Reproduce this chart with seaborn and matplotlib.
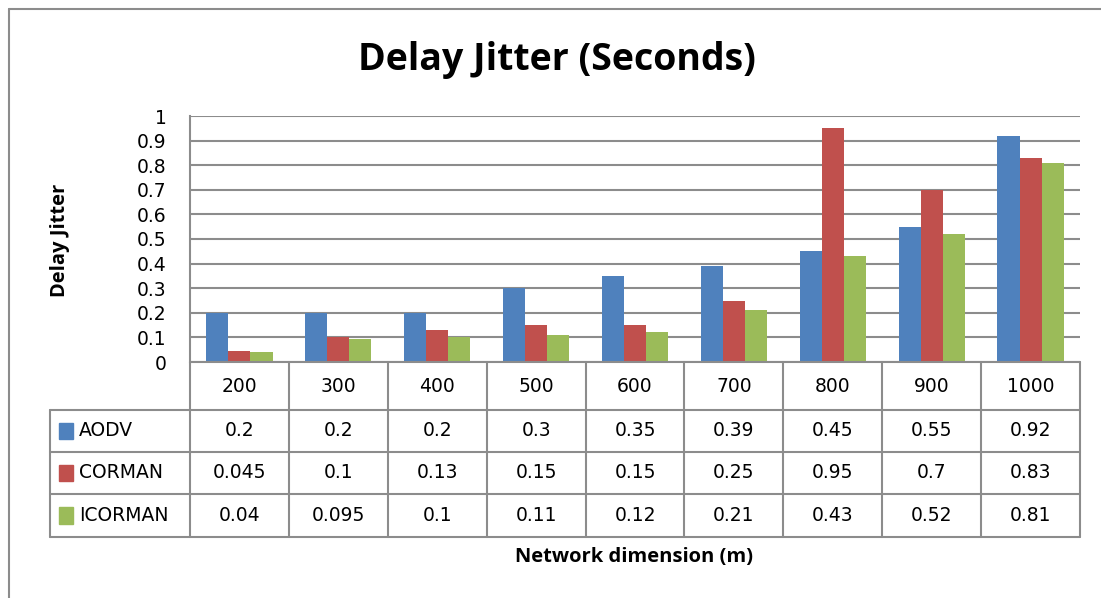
import pandas as pd
import matplotlib.pyplot as plt
import seaborn as sns
from matplotlib.lines import Line2D
from matplotlib.transforms import blended_transform_factory

dims = ["200", "300", "400", "500", "600", "700", "800", "900", "1000"]
protocols = ["AODV", "CORMAN", "ICORMAN"]
aodv = [0.2, 0.2, 0.2, 0.3, 0.35, 0.39, 0.45, 0.55, 0.92]
corman = [0.045, 0.1, 0.13, 0.15, 0.15, 0.25, 0.95, 0.7, 0.83]
icorman = [0.04, 0.095, 0.1, 0.11, 0.12, 0.21, 0.43, 0.52, 0.81]
colors = ["#4F81BD", "#C0504D", "#9BBB59"]

series = {"AODV": aodv, "CORMAN": corman, "ICORMAN": icorman}
records = []
for proto, vals in series.items():
    for d, v in zip(dims, vals):
        records.append({"Dimension": d, "Protocol": proto, "Jitter": v})
df = pd.DataFrame(records)

sns.set_style("white")
plt.rcParams["font.family"] = ["DejaVu Sans"]
plt.rcParams["text.color"] = "black"
plt.rcParams["ytick.color"] = "black"
bold_font = ["Open Sans", "DejaVu Sans"]
grid_c = "#8c8c8c"
fs = 13.5

fig = plt.figure(figsize=(11.01, 5.98), dpi=100)
W, H = 1101, 598
ax = fig.add_axes([190 / W, (H - 362) / H, 890 / W, 246 / H])

sns.barplot(data=df, x="Dimension", y="Jitter", hue="Protocol", order=dims,
            hue_order=protocols, palette=colors, saturation=1, width=0.67,
            linewidth=0, legend=False, ax=ax)

ax.set_ylim(0, 1)
ax.set_xlim(-0.5, len(dims) - 0.5)
yt = [i / 10 for i in range(11)]
ax.set_yticks(yt)
ax.set_yticklabels(["0"] + [f"{t:.1f}" for t in yt[1:-1]] + ["1"], fontsize=fs)
ax.tick_params(axis="y", length=0, pad=17, labelcolor="black")
ax.set_xticks([])
ax.set_xlabel("")
ax.set_ylabel("")
ax.set_axisbelow(True)
ax.yaxis.grid(True, color=grid_c, linewidth=1.5)
for s in ["top", "right", "bottom"]:
    ax.spines[s].set_visible(False)
ax.spines["left"].set_color(grid_c)
ax.spines["left"].set_linewidth(1.5)

# data table below the plot
tr = blended_transform_factory(ax.transData, ax.transAxes)
row_y = [0, -48 / 246, -90 / 246, -132 / 246, -175 / 246]
left_x = -0.5 - 140 / (890 / 9)
right_x = len(dims) - 0.5
lk = dict(color=grid_c, linewidth=1.5, transform=tr, clip_on=False)

ax.add_line(Line2D([-0.5, right_x], [row_y[0], row_y[0]], **lk))
for y in row_y[1:]:
    ax.add_line(Line2D([left_x, right_x], [y, y], **lk))
ax.add_line(Line2D([left_x, left_x], [row_y[1], row_y[-1]], **lk))
for i in range(len(dims) + 1):
    ax.add_line(Line2D([i - 0.5, i - 0.5], [row_y[0], row_y[-1]], **lk))

for i, d in enumerate(dims):
    ax.text(i, (row_y[0] + row_y[1]) / 2, d, transform=tr, ha="center",
            va="center", fontsize=fs, color="black")
for r, proto in enumerate(protocols):
    yc = (row_y[r + 1] + row_y[r + 2]) / 2
    for i, v in enumerate(series[proto]):
        ax.text(i, yc, f"{v:g}", transform=tr, ha="center", va="center",
                fontsize=fs, color="black")
    ax.text(left_x + 0.29, yc, proto, transform=tr, ha="left", va="center",
            fontsize=fs, color="black")
    ax.add_patch(plt.Rectangle((left_x + 0.09, yc - 0.033), 0.145, 0.066,
                               transform=tr, color=colors[r], clip_on=False))

fig.text(557 / W, 1 - 60 / H, "Delay Jitter (Seconds)", ha="center",
         va="center", fontsize=27, fontweight="bold", family=bold_font,
         color="black")
fig.text(60 / W, 1 - 240 / H, "Delay Jitter", rotation=90, ha="center",
         va="center", fontsize=14.5, fontweight="bold", family=bold_font,
         color="black")
fig.text(634 / W, 1 - 557 / H, "Network dimension (m)", ha="center",
         va="center", fontsize=14.5, fontweight="bold", family=bold_font,
         color="black")

fig.add_artist(Line2D([9 / W, 9 / W], [0, 1 - 9 / H], color=grid_c,
                      linewidth=1.5, transform=fig.transFigure))
fig.add_artist(Line2D([9 / W, 1], [1 - 9 / H, 1 - 9 / H], color=grid_c,
                      linewidth=1.5, transform=fig.transFigure))

fig.savefig("out.png", dpi=100)
